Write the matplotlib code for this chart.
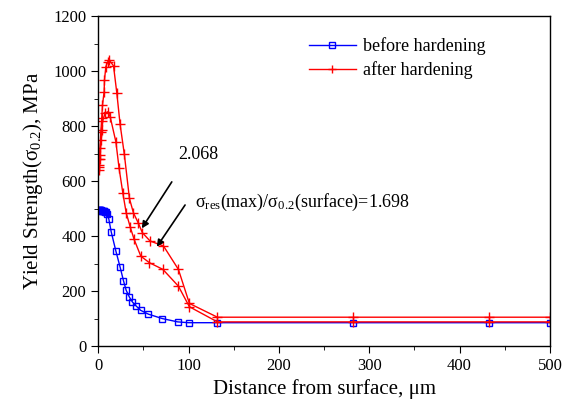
import matplotlib
matplotlib.use("Agg")
import matplotlib.pyplot as plt

plt.rcParams['font.family'] = ['Liberation Serif', 'DejaVu Serif']
plt.rcParams['mathtext.fontset'] = 'custom'
plt.rcParams['mathtext.rm'] = 'Liberation Serif'
plt.rcParams['mathtext.default'] = 'regular'

# before hardening
x_before = [0.5, 1, 1.5, 2, 2.5, 3, 3.5, 4, 5, 6, 7, 8, 9, 10, 11.8, 14.4, 19.5,
            24.3, 28, 31, 34.6, 38, 42, 47, 55.7, 71, 88, 100, 132, 282, 433, 500]
y_before = [495, 495, 496, 495, 494, 494, 493, 492, 492, 491, 490, 488, 486, 480,
            462, 416, 347, 287, 238, 203, 178, 160, 146, 130, 116, 100, 88, 85,
            85, 85, 85, 85]

# after hardening, two profiles
x_after1 = [0.5, 1, 2, 3, 4, 4.8, 6.6, 7, 8.5, 10.7, 12.2, 17, 20.7, 24.3, 29,
            34.6, 39, 44.6, 49, 57.5, 72.3, 88.8, 101, 132, 282, 433, 500]
y_after1 = [650, 680, 720, 780, 830, 876, 925, 967, 1016, 1034, 1040, 1019, 919,
            806, 697, 537, 485, 446, 412, 382, 364, 279, 155, 105, 105, 105, 105]

x_after2 = [0.5, 1, 1.5, 2.2, 3.3, 4.1, 4.8, 7.7, 10.7, 13.3, 19.6, 23.2, 27.3,
            31, 35.4, 39.8, 47.2, 56.8, 71.6, 88.8, 101, 132, 282, 433, 500]
y_after2 = [640, 660, 680, 695, 749, 785, 818, 846, 852, 834, 743, 646, 557,
            485, 434, 388, 327, 303, 279, 218, 143, 88, 88, 88, 88]

fig = plt.figure(figsize=(5.74, 4.12), dpi=100)
ax = fig.add_axes([0.171, 0.160, 0.787, 0.801])

ax.plot(x_before, y_before, color='blue', lw=1, marker='s', ms=5,
        mfc='none', mew=1, label='before hardening')
ax.plot(x_after1, y_after1, color='red', lw=1, marker='+', ms=7.5,
        mew=1, label='after hardening')
ax.plot(x_after2, y_after2, color='red', lw=1, marker='+', ms=7.5,
        mew=1, label='_nolegend_')

ax.set_xlim(0, 500)
ax.set_ylim(0, 1200)
ax.set_xticks(range(0, 501, 100))
ax.set_xticks(range(50, 500, 100), minor=True)
ax.set_yticks(range(0, 1201, 200))
ax.set_yticks(range(100, 1200, 200), minor=True)
ax.tick_params(which='major', direction='out', length=5, labelsize=12)
ax.tick_params(which='minor', direction='out', length=3)
for s in ax.spines.values():
    s.set_linewidth(1)

ax.set_xlabel('Distance from surface, μm', fontsize=15, labelpad=4)
ax.set_ylabel('Yield Strength(σ$_{0.2}$), MPa', fontsize=15, labelpad=6)

ax.annotate('', xy=(48.3, 428), xytext=(81.5, 597),
            arrowprops=dict(arrowstyle='-|>', color='black', lw=1.2,
                            shrinkA=0, shrinkB=0))
ax.text(88.5, 695, '2.068', fontsize=13, ha='left', va='center')
ax.annotate('', xy=(64.9, 361), xytext=(96.2, 513),
            arrowprops=dict(arrowstyle='-|>', color='black', lw=1.2,
                            shrinkA=0, shrinkB=0))
ax.text(107.3, 524, 'σ$_{res}$(max)/σ$_{0.2}$(surface)=1.698',
        fontsize=13, ha='left', va='center')

ax.legend(loc='upper left', bbox_to_anchor=(0.43, 0.985), frameon=False,
          fontsize=13, handlelength=2.6, handletextpad=0.4, labelspacing=0.35,
          markerscale=0.8)

fig.savefig('out.png', dpi=100)
